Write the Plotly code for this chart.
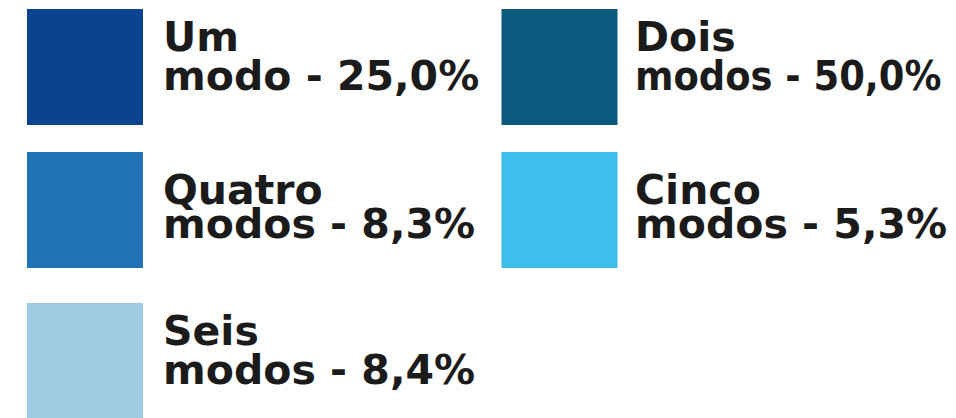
import plotly.graph_objects as go

# ---- data ----
categories = ["Um modo", "Dois modos", "Quatro modos", "Cinco modos", "Seis modos"]
first_words = ["Um", "Dois", "Quatro", "Cinco", "Seis"]
second_words = ["modo", "modos", "modos", "modos", "modos"]
values = [25.0, 50.0, 8.3, 5.3, 8.4]
colors = ["#0A438F", "#0B5A7E", "#2272B7", "#3EBEED", "#9ECAE2"]

# ---- layout positions (pixel space) ----
W, H = 956, 418
col_square_x = [85, 559.5]
col_text_x = [163, 635]
row_square_y = [67, 210, 361]
row_base1 = [55, 208, 349]
row_base2 = [94, 242, 388]
SQ = 116
FS = 41
CAP_SHIFT = 0.35 * FS

fig = go.Figure()
for i, cat in enumerate(categories):
    col = i % 2
    row = i // 2
    pct = f"{values[i]:.1f}".replace(".", ",") + "%"
    fig.add_trace(go.Scatter(
        x=[col_square_x[col]], y=[row_square_y[row]],
        mode="markers", name=cat,
        marker=dict(symbol="square", size=SQ, color=colors[i], line=dict(width=0)),
        hoverinfo="skip", showlegend=False,
    ))
    line2 = f"{second_words[i]} - {pct}"
    fam2 = "DejaVu Sans Condensed" if col == 1 and row == 0 else "DejaVu Sans"
    for txt, base, fam in [(first_words[i], row_base1[row], "DejaVu Sans"),
                           (line2, row_base2[row], fam2)]:
        fig.add_trace(go.Scatter(
            x=[col_text_x[col]], y=[base - CAP_SHIFT],
            mode="text", text=[txt], textposition="middle right",
            textfont=dict(family=fam, size=FS, color="#1b1b1b", weight="bold"),
            hoverinfo="skip", showlegend=False,
        ))

fig.update_layout(
    width=W, height=H,
    margin=dict(l=0, r=0, t=0, b=0),
    paper_bgcolor="white", plot_bgcolor="white",
    xaxis=dict(range=[0, W], visible=False, fixedrange=True),
    yaxis=dict(range=[H, 0], visible=False, fixedrange=True),
)

fig.write_html("out.html", config={"displayModeBar": False},
               post_script="document.body.style.margin='0';document.body.style.overflow='hidden';")
